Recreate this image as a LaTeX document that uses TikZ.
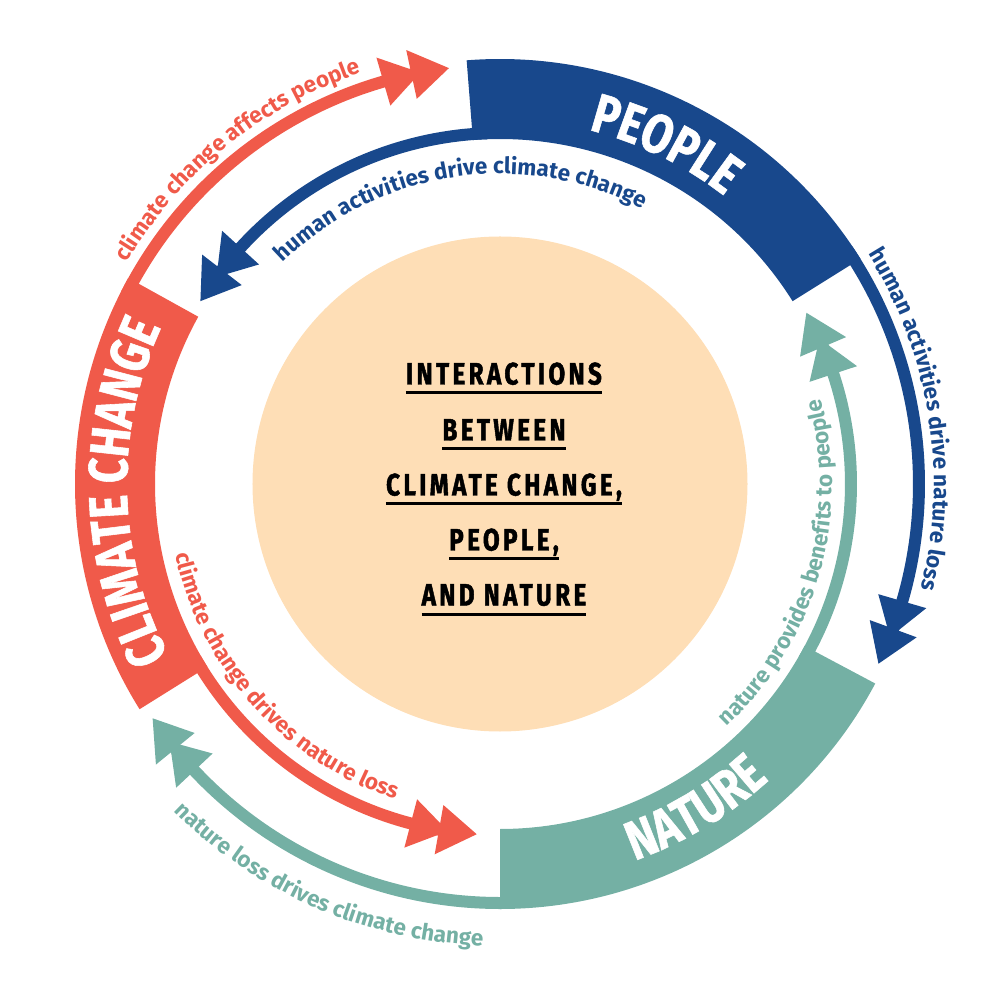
\documentclass[tikz,border=0pt]{standalone}
\usepackage{fontspec}
\setmainfont{Fira Sans}
\newfontfamily\bandfont{Fira Sans}[FakeStretch=0.8, FakeBold=1]
\newfontfamily\corefont{Fira Sans}[FakeStretch=0.78, FakeBold=1.5, LetterSpace=11]
\usetikzlibrary{decorations.text}

\definecolor{peopleblue}{RGB}{24,72,140}
\definecolor{climatered}{RGB}{240,90,74}
\definecolor{natureteal}{RGB}{116,176,164}
\definecolor{corepeach}{RGB}{254,222,182}

\newcommand\lblfont{\bfseries\fontsize{22.5}{24}\selectfont}
\newcommand\bandtitlefont{\bandfont\bfseries\fontsize{55}{60}\selectfont}

% two stacked triangles at the end of a ring arrow
% #1 tip angle, #2 radius, #3 direction (+1 ccw, -1 cw), #4 colour
\newcommand\doublehead[4]{%
  \pgfmathsetmacro\dhFront{#1}%
  \pgfmathsetmacro\dhFrontBack{#1-(#3)*38/#2*180/pi}%
  \pgfmathsetmacro\dhRear{#1-(#3)*29/#2*180/pi}%
  \pgfmathsetmacro\dhRearBack{#1-(#3)*67/#2*180/pi}%
  \fill[#4] (\dhRear:#2) -- (\dhRearBack:{#2+25}) -- (\dhRearBack:{#2-25}) -- cycle;
  \fill[#4] (\dhFront:#2) -- (\dhFrontBack:{#2+25}) -- (\dhFrontBack:{#2-25}) -- cycle;
}

% annular band between two angles
\newcommand\ringband[3]{%
  \fill[#3] (#1:345) arc[start angle=#1, end angle=#2, radius=345]
    -- (#2:425) arc[start angle=#2, end angle=#1, radius=425] -- cycle;
}

\tikzset{
  thinarc/.style={line width=12pt},
  arclabel/.style n args={2}{decorate, decoration={text along path,
      text align=center, text color=#1, text={|\lblfont|#2}}},
  bandtitle/.style={decorate, decoration={text along path,
      text align=center, text color=white, text={|\bandtitlefont|#1}}},
  coretext/.style={anchor=base, inner sep=0pt,
      font=\corefont\bfseries\fontsize{31}{34}\selectfont, text=black},
  coreline/.style={line width=3pt, black}
}

\begin{document}
\begin{tikzpicture}[x=1pt, y=1pt]
\useasboundingbox (-500,-500) rectangle (500,484);

% core disc
\fill[corepeach] (0,0) circle[radius=247.5];

% connecting arcs between the three bands
\draw[thinarc, climatered] (153:419) arc[start angle=153, end angle=100.5, radius=419];
\draw[thinarc, peopleblue] (92:351) arc[start angle=92, end angle=144.6, radius=351];
\draw[thinarc, peopleblue] (34:419) arc[start angle=34, end angle=-21.9, radius=419];
\draw[thinarc, natureteal] (-30:351) arc[start angle=-30, end angle=25.2, radius=351];
\draw[thinarc, climatered] (210:351) arc[start angle=210, end angle=262.2, radius=351];
\draw[thinarc, natureteal] (272:419) arc[start angle=272, end angle=217.5, radius=419];

\doublehead{97}{419}{-1}{climatered}
\doublehead{148.6}{351}{1}{peopleblue}
\doublehead{-25.4}{419}{-1}{peopleblue}
\doublehead{29.2}{351}{1}{natureteal}
\doublehead{266.2}{351}{1}{climatered}
\doublehead{214}{419}{-1}{natureteal}

% the three bands
\ringband{32}{94.5}{peopleblue}
\ringband{151}{212}{climatered}
\ringband{270}{332}{natureteal}

% band titles
\path[bandtitle={PEOPLE}] (104:365) arc[start angle=104, end angle=24, radius=365];
\path[bandtitle={CLIMATE CHANGE}] (226.3:373) arc[start angle=226.3, end angle=136.3, radius=373];
\path[bandtitle={NATURE}] (261:400) arc[start angle=261, end angle=341, radius=400];

% arrow labels
\path[arclabel={climatered}{climate change affects people}] (184:434) arc[start angle=184, end angle=74, radius=434];
\path[arclabel={peopleblue}{human activities drive climate change}] (163:310) arc[start angle=163, end angle=34, radius=310];
\path[arclabel={peopleblue}{human activities drive nature loss}] (64:434) arc[start angle=64, end angle=-46, radius=434];
\path[arclabel={natureteal}{nature provides benefits to people}] (-81:332) arc[start angle=-81, end angle=49, radius=332];
\path[arclabel={climatered}{climate change drives nature loss}] (157:332) arc[start angle=157, end angle=287, radius=332];
\path[arclabel={natureteal}{nature loss drives climate change}] (191:462) arc[start angle=191, end angle=302, radius=462];

% centre title
\node[coretext] (t1) at (4,99.5) {INTERACTIONS};
\node[coretext] (t2) at (4,43.5) {BETWEEN};
\node[coretext] (t3) at (4,-11.5) {CLIMATE CHANGE,};
\node[coretext] (t4) at (4,-66.5) {PEOPLE,};
\node[coretext] (t5) at (4,-121.5) {AND NATURE};
\foreach \t in {t1,t2,t3,t4,t5}
  \draw[coreline] ([yshift=-8.5pt]\t.base west) -- ([yshift=-8.5pt]\t.base east);
\end{tikzpicture}
\end{document}
